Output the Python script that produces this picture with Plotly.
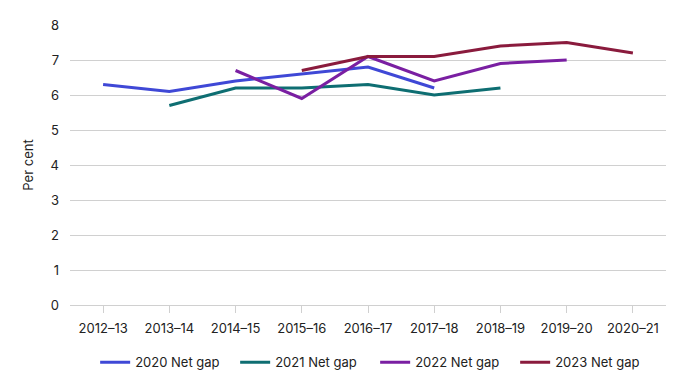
import plotly.graph_objects as go

categories = ["2012–13", "2013–14", "2014–15", "2015–16", "2016–17",
              "2017–18", "2018–19", "2019–20", "2020–21"]

gap_2020 = [6.3, 6.1, 6.4, 6.6, 6.8, 6.2, None, None, None]
gap_2021 = [None, 5.7, 6.2, 6.2, 6.3, 6.0, 6.2, None, None]
gap_2022 = [None, None, 6.7, 5.9, 7.1, 6.4, 6.9, 7.0, None]
gap_2023 = [None, None, None, 6.7, 7.1, 7.1, 7.4, 7.5, 7.2]

series = [
    ("2020 Net gap", gap_2020, "#3F48D6"),
    ("2021 Net gap", gap_2021, "#0E6E72"),
    ("2022 Net gap", gap_2022, "#7A1FA2"),
    ("2023 Net gap", gap_2023, "#8A1B3D"),
]

fig = go.Figure()
for name, vals, color in series:
    fig.add_trace(go.Scatter(
        x=categories, y=vals, name=name, mode="lines",
        line=dict(color=color, width=3), connectgaps=False,
    ))

fig.update_layout(
    width=689, height=390,
    margin=dict(l=62, r=31, t=17, b=93, autoexpand=False),
    paper_bgcolor="white", plot_bgcolor="white",
    font=dict(family="Inter, Roboto, sans-serif", size=13, color="#222222"),
    showlegend=True,
    legend=dict(orientation="h", x=0.512, xanchor="center", y=-0.205, yanchor="middle",
                font=dict(size=13), itemwidth=30, tracegroupgap=0,
                entrywidth=95),
    xaxis=dict(
        type="category", range=[-0.5, 8.5],
        showgrid=False, showline=True, linecolor="#D0D0D0", linewidth=1,
        ticks="outside", ticklen=7, tickcolor="#D0D0D0", ticklabelstandoff=4,
        tickfont=dict(size=13), zeroline=False, fixedrange=True,
    ),
    yaxis=dict(
        range=[0, 8], dtick=1, showgrid=True, gridcolor="#D0D0D0", gridwidth=1,
        zeroline=False, showline=False, ticks="", ticklabelstandoff=10,
        tickfont=dict(size=13),
        title=dict(text="Per cent", font=dict(size=13), standoff=14),
    ),
)

fig.write_html("out.html")
